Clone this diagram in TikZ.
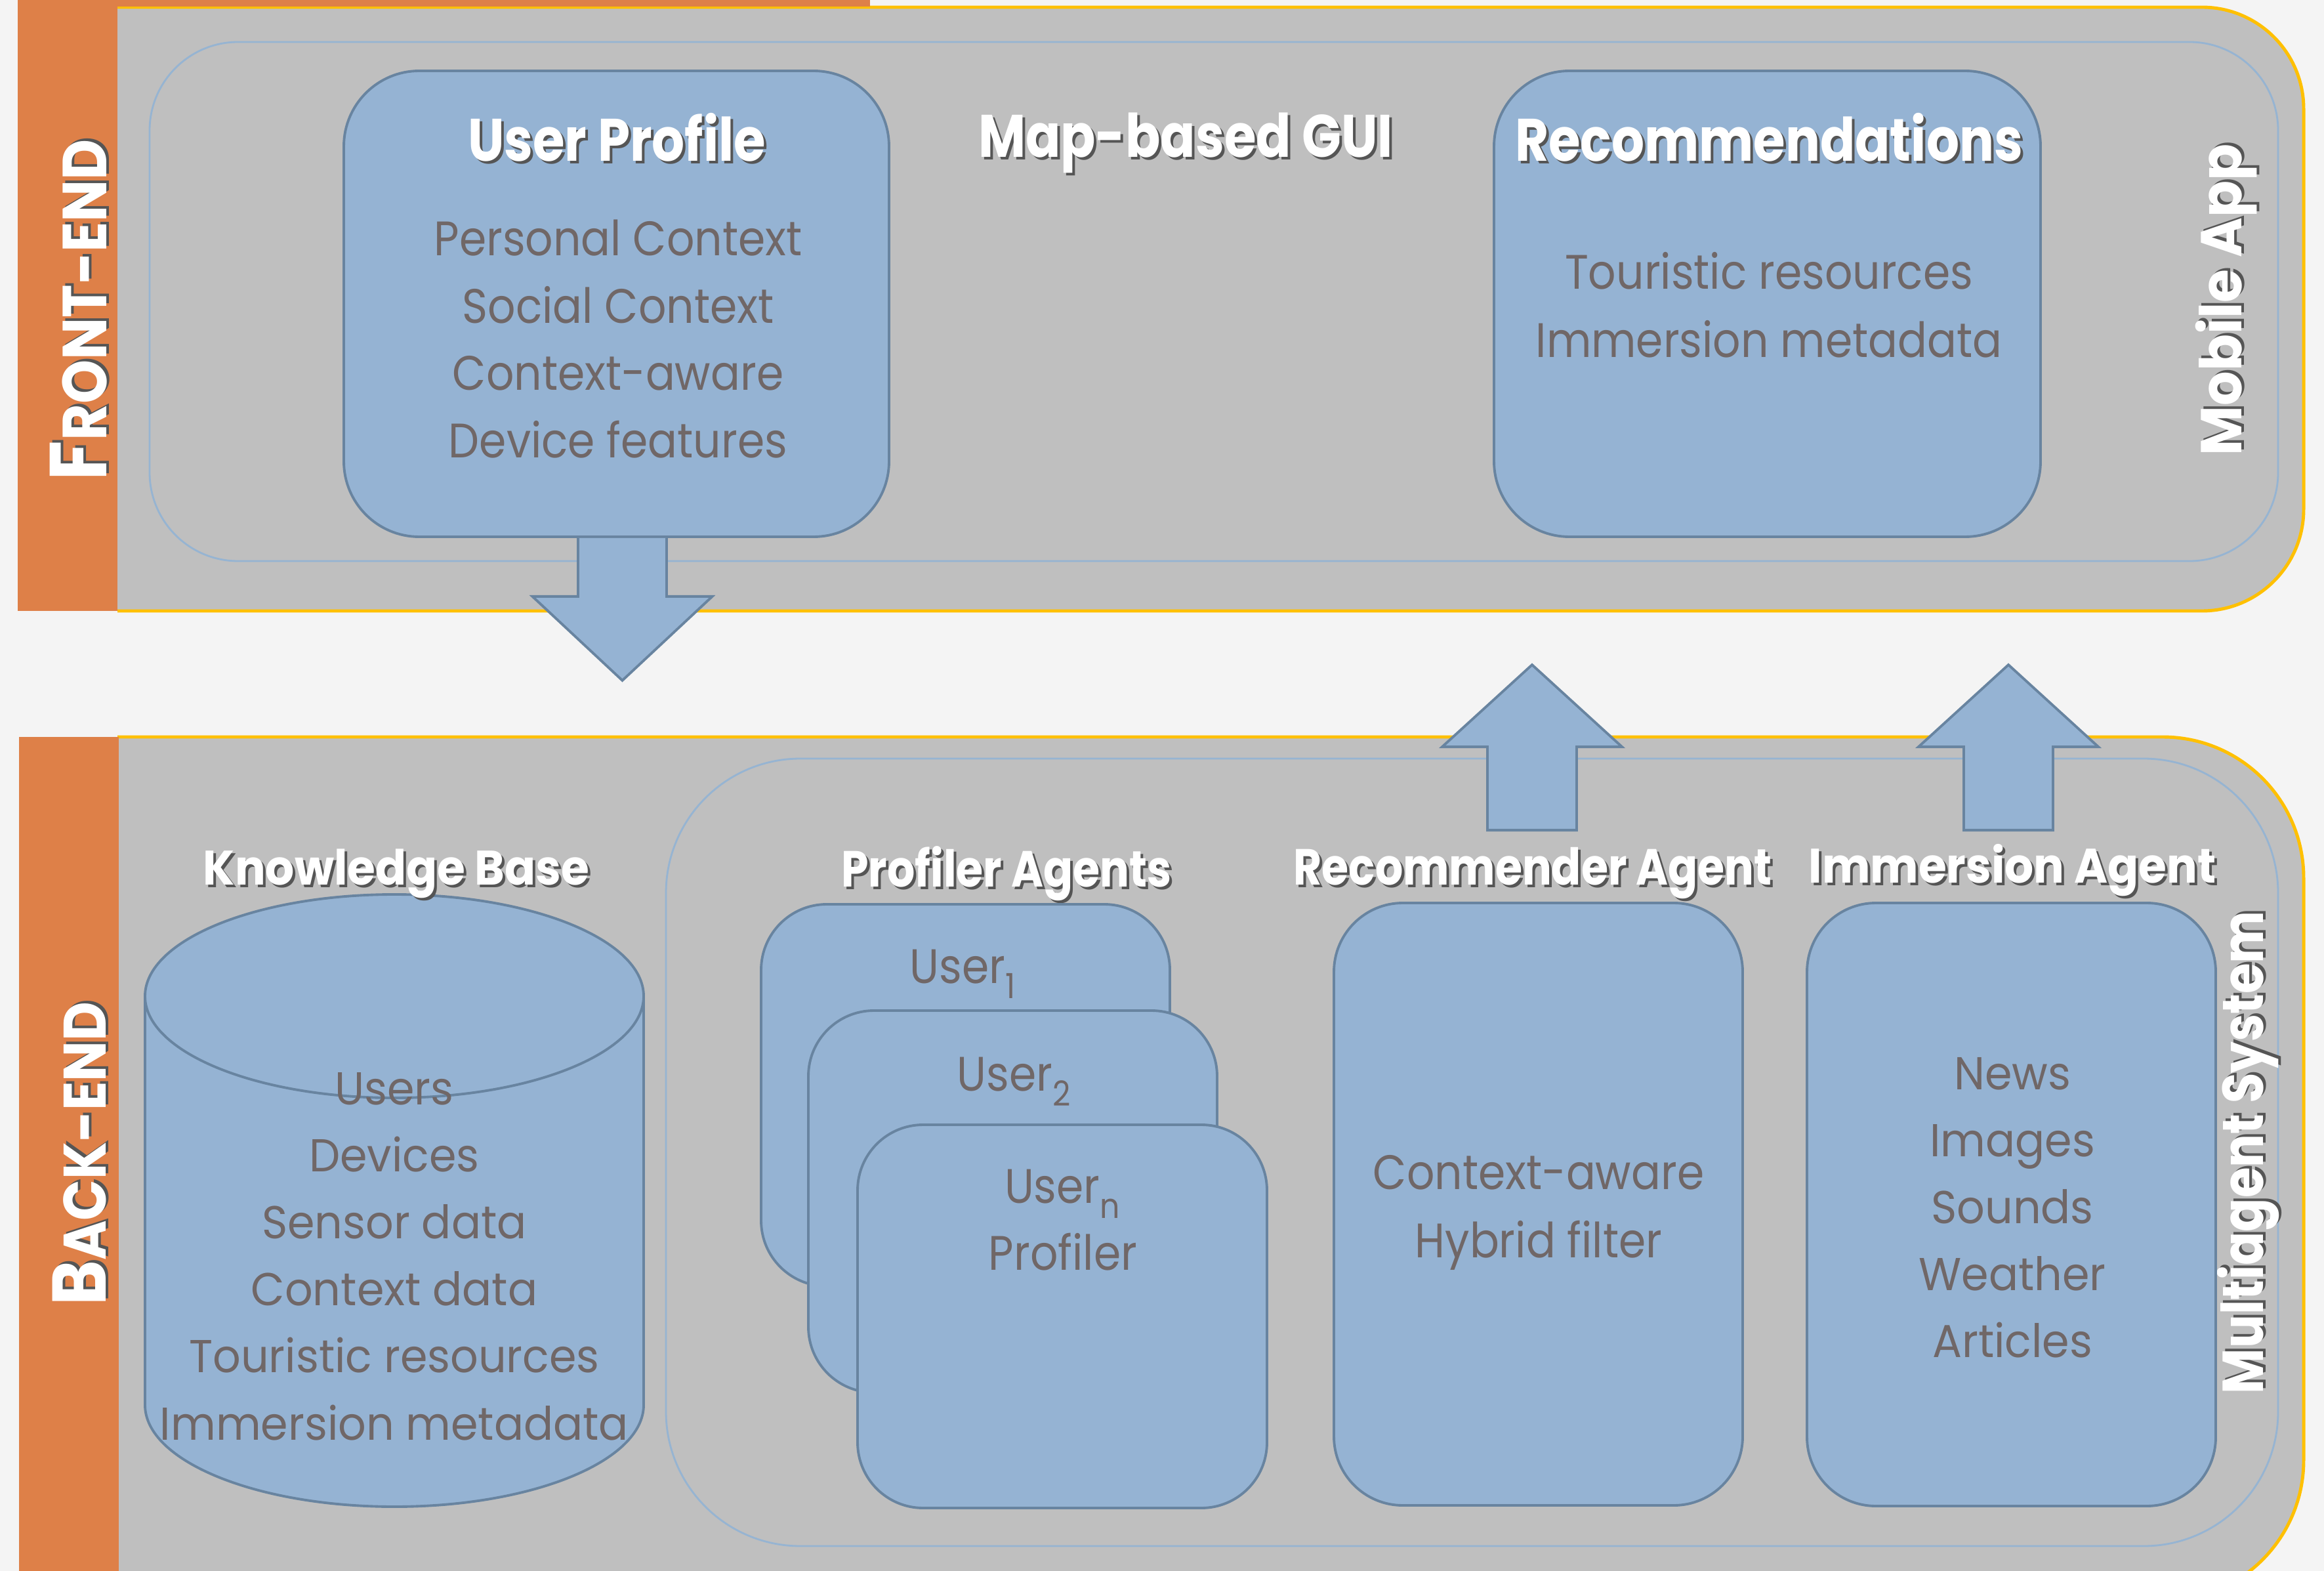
\documentclass[tikz,border=0pt]{standalone}
\usepackage{fontspec}
\setmainfont{Poppins}
\newfontfamily\wide[FakeStretch=0.95]{Poppins}
\newfontfamily\wideb[FakeStretch=0.94]{Poppins}
\newfontfamily\widec[FakeStretch=0.9]{Poppins}
\newfontfamily\cond[FakeStretch=0.9]{Poppins}
\newfontfamily\condb[FakeStretch=0.86]{Poppins}
\usetikzlibrary{calc}
\definecolor{bgc}{RGB}{244,244,244}
\definecolor{orangec}{RGB}{222,128,72}
\definecolor{panelc}{RGB}{191,191,191}
\definecolor{yellowc}{RGB}{255,192,0}
\definecolor{innerc}{RGB}{150,180,210}
\definecolor{boxc}{RGB}{149,179,211}
\definecolor{boxline}{RGB}{104,132,160}
\definecolor{txtc}{RGB}{112,103,103}
\definecolor{shadowc}{RGB}{85,85,85}
\newcommand\shd[1]{\makebox[0pt][l]{\kern0.04cm\raisebox{-0.04cm}{\textcolor{shadowc}{#1}}}#1}
\newcommand\subx[1]{\raisebox{-0.32em}{\fontsize{15}{15}\selectfont #1}}
\tikzset{
  blockbox/.style={draw=boxline, line width=1.1pt, fill=boxc, rounded corners=#1, inner sep=0pt},
  blockbox/.default=1cm,
  bodyc/.style={text=txtc, font=\cond\fontsize{21}{25}\selectfont, anchor=base, inner sep=0pt},
  bodyw/.style={text=txtc, font=\wide\fontsize{20}{25}\selectfont, anchor=base, inner sep=0pt},
  ttlbig/.style={text=white, font=\condb\bfseries\fontsize{26}{30}\selectfont, anchor=base, inner sep=0pt},
  ttlc/.style={text=white, font=\condb\bfseries\fontsize{22}{26}\selectfont, anchor=base, inner sep=0pt},
  ttlw/.style={text=white, font=\wideb\bfseries\fontsize{21}{26}\selectfont, anchor=base, inner sep=0pt},
  panelline/.style={draw=yellowc, line width=1.4pt},
  innerline/.style={draw=innerc, line width=0.8pt, rounded corners=#1},
  blockarrow/.style={draw=boxline, line width=1.1pt, fill=boxc, line join=miter},
}
\begin{document}
\begin{tikzpicture}
\useasboundingbox (0,0) rectangle (35.42,-23.94);
\clip (0,0) rectangle (35.42,-23.94);
\fill[bgc] (0,0) rectangle (35.42,-23.94);

% ---------- FRONT-END panel
\fill[panelc] (1.79,-0.11) -- (33.56,-0.11) arc[start angle=90,end angle=0,radius=1.55]
  -- (35.11,-7.76) arc[start angle=0,end angle=-90,radius=1.55] -- (1.79,-9.31) -- cycle;
\draw[panelline] (1.79,-0.11) -- (33.56,-0.11) arc[start angle=90,end angle=0,radius=1.55]
  -- (35.11,-7.76) arc[start angle=0,end angle=-90,radius=1.55] -- (1.79,-9.31);
\draw[innerline=1.35cm] (2.28,-0.64) rectangle (34.72,-8.55);
\fill[orangec] (0.27,0) rectangle (13.26,-0.10);
\fill[orangec] (0.27,0) rectangle (1.79,-9.31);

% ---------- BACK-END panel
\fill[panelc] (1.79,-11.23) -- (32.96,-11.23) arc[start angle=90,end angle=0,radius=2.15]
  -- (35.11,-22.25) arc[start angle=0,end angle=-90,radius=2.15] -- (1.79,-24.40) -- cycle;
\draw[panelline] (1.79,-11.23) -- (32.96,-11.23) arc[start angle=90,end angle=0,radius=2.15]
  -- (35.11,-22.25) arc[start angle=0,end angle=-90,radius=2.15] -- (1.79,-24.40);
\draw[innerline=2.05cm] (10.15,-11.56) rectangle (34.72,-23.56);
\fill[orangec] (0.29,-11.23) rectangle (1.81,-24.10);

% ---------- side labels
\node[rotate=90, text=white, font=\widec\bfseries, inner sep=0pt] (frontlbl) at (1.22,-4.72)
  {\shd{{\fontsize{35}{35}\selectfont F}{\fontsize{27}{27}\selectfont RONT-END}}};
\node[rotate=90, text=white, font=\widec\bfseries, inner sep=0pt] (backlbl) at (1.23,-17.58)
  {\shd{{\fontsize{33}{33}\selectfont B}{\fontsize{26}{26}\selectfont ACK-END}}};
\node[rotate=90, text=white, font=\wideb\bfseries\fontsize{25}{28}\selectfont, inner sep=0pt] (mobilelbl) at (33.95,-4.57) {\shd{Mobile App}};
\node[rotate=90, text=white, font=\condb\bfseries\fontsize{25}{28}\selectfont, inner sep=0pt] (maslbl) at (34.28,-17.56) {\shd{Multiagent System}};

% ---------- front boxes
\node[blockbox=1.15cm, minimum width=8.31cm, minimum height=7.10cm] (upbox) at (9.395,-4.63) {};
\node[blockbox=1.15cm, minimum width=8.33cm, minimum height=7.10cm] (recsbox) at (26.935,-4.63) {};
\node[ttlbig] (uptitle) at (9.40,-2.46) {\shd{User Profile}};
\node[ttlbig] (guititle) at (18.07,-2.40) {\shd{Map-based GUI}};
\node[ttlbig] (recstitle) at (26.96,-2.46) {\shd{Recommendations}};
\foreach \t [count=\i] in {Personal Context, Social Context, Context-aware, Device features}
  \node[bodyc] (up\i) at (9.42,{-3.90-1.025*(\i-1)}) {\t};
\node[bodyc] (recs1) at (26.96,-4.41) {Touristic resources};
\node[bodyc] (recs2) at (26.96,-5.45) {Immersion metadata};

% ---------- knowledge base cylinder
\fill[boxc] (2.21,-15.18) -- (2.21,-21.41) arc[start angle=180,end angle=360,x radius=3.80,y radius=1.55]
  -- (9.81,-15.18) arc[start angle=0,end angle=180,x radius=3.80,y radius=1.55] -- cycle;
\draw[boxline, line width=1.1pt] (2.21,-15.18) -- (2.21,-21.41) arc[start angle=180,end angle=360,x radius=3.80,y radius=1.55] -- (9.81,-15.18);
\draw[boxline, line width=1.1pt] (6.01,-15.18) ellipse[x radius=3.80, y radius=1.55];
\node[ttlw] (kbtitle) at (6.04,-13.48) {\shd{Knowledge Base}};
\foreach \t [count=\i] in {Users, Devices, Sensor data, Context data, Touristic resources, Immersion metadata}
  \node[bodyw] (kb\i) at (6.01,{-16.83-1.022*(\i-1)}) {\t};

% ---------- profiler agents
\node[ttlc] (proftitle) at (15.34,-13.51) {\shd{Profiler Agents}};
\node[blockbox=1.0cm, minimum width=6.23cm, minimum height=5.82cm] (prof1) at (14.715,-16.69) {};
\node[blockbox=1.0cm, minimum width=6.23cm, minimum height=5.82cm] (prof2) at (15.435,-18.31) {};
\node[blockbox=1.0cm, minimum width=6.24cm, minimum height=5.84cm] (prof3) at (16.19,-20.06) {};
\node[bodyc] (u1) at (14.67,-14.98) {User\subx{1}};
\node[bodyc] (u2) at (15.45,-16.62) {User\subx{2}};
\node[bodyc] (un) at (16.19,-18.33) {User\subx{n}};
\node[bodyc] (profl) at (16.20,-19.35) {Profiler};

% ---------- recommender agent
\node[ttlc] (rectitle) at (23.36,-13.48) {\shd{Recommender Agent}};
\node[blockbox=1.05cm, minimum width=6.23cm, minimum height=9.18cm] (recbox) at (23.445,-18.35) {};
\node[bodyc] (rec1) at (23.45,-18.12) {Context-aware};
\node[bodyc] (rec2) at (23.45,-19.16) {Hybrid filter};

% ---------- immersion agent
\node[ttlw] (immtitle) at (30.67,-13.45) {\shd{Immersion Agent}};
\node[blockbox=1.05cm, minimum width=6.23cm, minimum height=9.19cm] (immbox) at (30.655,-18.355) {};
\foreach \t [count=\i] in {News, Images, Sounds, Weather, Articles}
  \node[bodyw] (imm\i) at (30.67,{-16.60-1.02*(\i-1)}) {\t};

% ---------- block arrows
\coordinate (da) at ($(upbox.south)+(0.09,0)$);
\draw[blockarrow] ($(da)+(-0.675,0)$) -- ($(da)+(-0.675,-0.89)$) -- ($(da)+(-1.37,-0.89)$)
  -- ($(da)+(0,-2.17)$) -- ($(da)+(1.37,-0.89)$) -- ($(da)+(0.675,-0.89)$) -- ($(da)+(0.675,0)$);
\coordinate (ra) at ($(recbox.north)+(-0.095,1.09)$);
\draw[blockarrow] ($(ra)+(-0.68,0)$) -- ($(ra)+(-0.68,1.27)$) -- ($(ra)+(-1.37,1.27)$)
  -- ($(ra)+(0,2.52)$) -- ($(ra)+(1.37,1.27)$) -- ($(ra)+(0.68,1.27)$) -- ($(ra)+(0.68,0)$) -- cycle;
\coordinate (ia) at ($(immbox.north)+(-0.045,1.09)$);
\draw[blockarrow] ($(ia)+(-0.68,0)$) -- ($(ia)+(-0.68,1.27)$) -- ($(ia)+(-1.37,1.27)$)
  -- ($(ia)+(0,2.52)$) -- ($(ia)+(1.37,1.27)$) -- ($(ia)+(0.68,1.27)$) -- ($(ia)+(0.68,0)$) -- cycle;
\end{tikzpicture}
\end{document}
